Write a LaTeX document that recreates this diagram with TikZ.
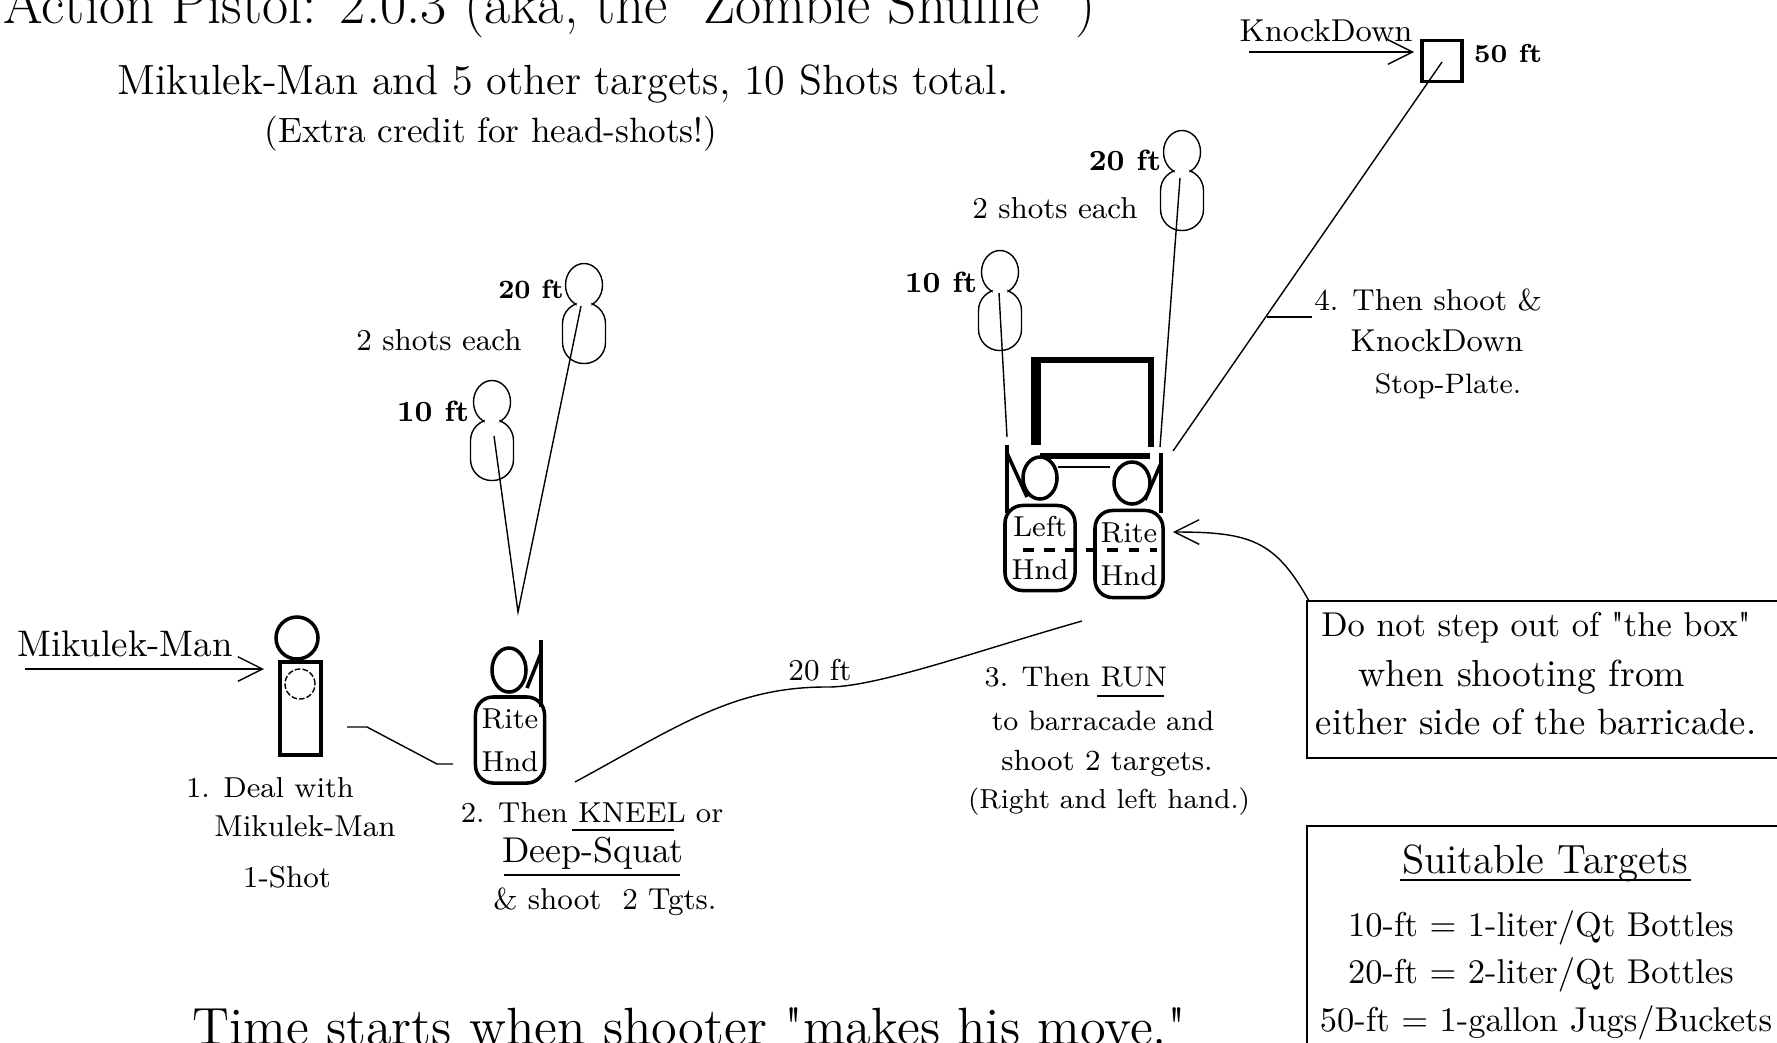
\documentclass[tikz,border=0pt]{standalone}
\usepackage{tikz}
\usetikzlibrary{arrows.meta,shapes.geometric}

\tikzset{
  txt/.style={inner sep=0pt, font=\fontsize{8.6}{10}\selectfont},
  runtxt/.style={inner sep=0pt, font=\fontsize{8}{10}\selectfont},
  boxtxt/.style={inner sep=0pt, font=\fontsize{9.8}{12}\selectfont},
  labtxt/.style={inner sep=0pt, font=\fontsize{8.3}{10}\selectfont\bfseries},
  thin line/.style={line width=0.4pt},
  barb/.style={thin line, -{Straight Barb[length=7pt,width=7pt]}},
  targethead/.style={draw, thin line, ellipse, inner sep=0pt, minimum width=0.37cm, minimum height=0.43cm},
  targetbody/.style={draw, thin line, rounded corners=6pt, inner sep=0pt, minimum width=0.43cm, minimum height=0.61cm},
  targetneck/.style={fill=white, ellipse, inner sep=0pt, minimum width=0.15cm, minimum height=0.08cm},
  shooterhead/.style={draw, line width=1pt, ellipse, inner sep=0pt, minimum width=0.34cm, minimum height=0.42cm},
  shooterbody/.style={draw, line width=1pt, rounded corners=5pt, align=center, inner sep=0pt,
    minimum width=0.69cm, minimum height=0.86cm, font=\fontsize{8.2}{12.2}\selectfont},
}

\begin{document}
\begin{tikzpicture}[x=0.01cm,y=-0.01cm]
  \useasboundingbox (0,0) rectangle (1777,1042);
  \clip (0,0) rectangle (1777,1042);

  % Coordinates
  \coordinate (manarrowA) at (25,669);
  \coordinate (manarrowB) at (264,669);
  \coordinate (kneeltip) at (518,612);
  \coordinate (kneeltenA) at (494,436);
  \coordinate (kneeltwentyA) at (581,306);
  \coordinate (stepA) at (347,727);
  \coordinate (stepB) at (367,727);
  \coordinate (stepC) at (437,764);
  \coordinate (stepD) at (453,764);
  \coordinate (runA) at (575,782);
  \coordinate (runB) at (1082,621);
  \coordinate (plateA) at (1442,62);
  \coordinate (plateB) at (1173,451);
  \coordinate (plateleaderA) at (1267,317);
  \coordinate (plateleaderB) at (1312,317);
  \coordinate (tenA) at (999,293);
  \coordinate (tenB) at (1007,437);
  \coordinate (twentyA) at (1180,178);
  \coordinate (twentyB) at (1160,447);
  \coordinate (knockA) at (1249,52);
  \coordinate (knockB) at (1414,52);
  \coordinate (calloutA) at (1309,601);
  \coordinate (calloutB) at (1173,532);

  % Heading
  \node[inner sep=0pt, anchor=base west, font=\fontsize{16.2}{18}\selectfont] (title) at (3,23)
    {Action Pistol: 2.0.3 (aka, the \textquotedbl Zombie Shuffle\textquotedbl\ )};
  \node[inner sep=0pt, font=\fontsize{12}{14}\selectfont] (subtitle) at (563,84)
    {Mikulek-Man and 5 other targets, 10 Shots total.};
  \node[inner sep=0pt, font=\fontsize{10}{12}\selectfont] (extra) at (491,134)
    {(Extra credit for head-shots!)};
  \node[inner sep=0pt, font=\fontsize{14.9}{16}\selectfont] (timestart) at (689,1026)
    {Time starts when shooter \textquotedbl makes his move.\textquotedbl};

  % Mikulek-Man
  \node[boxtxt, font=\fontsize{10.5}{12}\selectfont] (manname) at (125,644) {Mikulek-Man};
  \draw[barb] (manarrowA) -- (manarrowB);
  \node[draw, line width=1pt, circle, inner sep=0pt, minimum size=0.42cm] (manhead) at (297,638) {};
  \node[draw, line width=1pt, inner sep=0pt, minimum width=0.41cm, minimum height=0.93cm] (manbody) at (300.5,708.5) {};
  \node[draw, thin line, dash pattern=on 1.6pt off 0.6pt, circle, inner sep=0pt, minimum size=0.30cm] (manchest) at (300,684) {};
  \node[runtxt, font=\fontsize{8.2}{10}\selectfont] (dealA) at (270,788) {1. Deal with};
  \node[txt] (dealB) at (305,826) {Mikulek-Man};
  \node[txt] (dealC) at (287,877) {1-Shot};
  \draw[thin line] (stepA) -- (stepB) -- (stepC) -- (stepD);

  % Kneeling position
  \node[shooterhead, minimum height=0.44cm] (kneelhead) at (509,670) {};
  \node[shooterbody, minimum height=0.86cm] (kneelbody) at (510,740) {Rite\\Hnd};
  \draw[line width=1pt] (541,640) -- (541,707);
  \draw[line width=1pt] (541,653) -- (527,688);
  \node[targethead] (headten) at (492,402) {};
  \node[targetbody] (bodyten) at (492,450) {};
  \node[targetneck] (neckten) at (492,421.5) {};
  \node[targethead] (headtwenty) at (584,285) {};
  \node[targetbody] (bodytwenty) at (584,333) {};
  \node[targetneck] (necktwenty) at (584,304.5) {};
  \draw[thin line] (kneeltenA) -- (kneeltip) -- (kneeltwentyA);
  \node[labtxt] (tenleft) at (433,411) {10 ft};
  \node[labtxt, font=\fontsize{7.5}{10}\selectfont\bfseries] (twentyleft) at (531,289) {20 ft};
  \node[txt] (shotsleft) at (439,340) {2 shots each};
  \node[runtxt, font=\fontsize{8.2}{10}\selectfont] (kneelA) at (592,813) {2. Then KNEEL or};
  \draw[thin line] (572,830) -- (674,830);
  \node[boxtxt, font=\fontsize{10.2}{12}\selectfont] (kneelB) at (593,853) {Deep-Squat};
  \draw[thin line] (504,875) -- (680,875);
  \node[txt] (kneelC) at (605,902) {\& shoot\ \ 2 Tgts.};

  % Run to barricade
  \draw[thin line] (runA) .. controls (680,725) and (735,686) .. (830,687)
    .. controls (880,686) and (980,650) .. (runB);
  \node[txt] (runlabel) at (820,670) {20 ft};
  \node[runtxt, font=\fontsize{8.1}{10}\selectfont] (runnoteA) at (1076,677) {3. Then RUN};
  \draw[thin line] (1097,696) -- (1164,696);
  \node[runtxt] (runnoteB) at (1103,721) {to barracade and};
  \node[runtxt, font=\fontsize{8.3}{10}\selectfont] (runnoteC) at (1107,763) {shoot 2 targets.};
  \node[runtxt, font=\fontsize{7.8}{10}\selectfont] (runnoteD) at (1109,802) {(Right and left hand.)};

  % Barricade
  \draw[line width=1.6pt] (1031,360) -- (1154,360);
  \draw[line width=2.8pt] (1036,357) -- (1036,445);
  \draw[line width=1.7pt] (1151,357) -- (1151,447);
  \draw[line width=1.5pt] (1040,456) -- (1150,456);
  \draw[thin line] (1058,467) -- (1110,467);
  \node[shooterhead] (lefthead) at (1040,478) {};
  \node[shooterhead, minimum width=0.36cm] (ritehead) at (1132,483) {};
  \draw[line width=1pt] (1007,445) -- (1007,513);
  \draw[line width=1pt] (1007,453) -- (1027,497);
  \draw[line width=1pt] (1161,453) -- (1161,513);
  \draw[line width=1pt] (1161,463) -- (1145,500);
  \node[shooterbody, minimum width=0.70cm, minimum height=0.85cm] (leftbody) at (1040,548) {Left\\Hnd};
  \node[shooterbody, minimum width=0.68cm, minimum height=0.87cm] (ritebody) at (1129,554) {Rite\\Hnd};
  \draw[dashed, line width=1pt] (1023,550) -- (1157,550);

  % Barricade targets
  \node[targethead] (headtenB) at (1000,272) {};
  \node[targetbody] (bodytenB) at (1000,320) {};
  \node[targetneck] (necktenB) at (1000,291.5) {};
  \draw[thin line] (tenA) -- (tenB);
  \node[targethead] (headtwentyB) at (1182,152) {};
  \node[targetbody] (bodytwentyB) at (1182,200) {};
  \node[targetneck] (necktwentyB) at (1182,171.5) {};
  \draw[thin line] (twentyA) -- (twentyB);
  \node[labtxt] (tenright) at (941,282) {10 ft};
  \node[labtxt] (twentyright) at (1125,160) {20 ft};
  \node[txt] (shotsright) at (1055,208) {2 shots each};

  % Stop-plate
  \node[draw, line width=1.1pt, inner sep=0pt, minimum width=0.40cm, minimum height=0.41cm] (plate) at (1442,61) {};
  \node[labtxt, font=\fontsize{7.4}{10}\selectfont\bfseries] (fiftylabel) at (1508,54) {50 ft};
  \node[txt, font=\fontsize{9}{10}\selectfont] (knocktop) at (1326,31) {KnockDown};
  \draw[barb] (knockA) -- (knockB);
  \draw[thin line] (plateA) -- (plateB);
  \draw[thin line] (plateleaderA) -- (plateleaderB);
  \node[txt] (plateA1) at (1428,300) {4. Then shoot \&};
  \node[txt, font=\fontsize{9}{10}\selectfont] (plateA2) at (1437,341) {KnockDown};
  \node[runtxt] (plateA3) at (1448,386) {Stop-Plate.};

  % Notes on the right
  \draw[thin line, {Straight Barb[length=7pt,width=7pt]}-] (calloutB) .. controls (1250,532) and (1275,540) .. (calloutA);
  \draw[thin line] (1307,601) rectangle (1800,758);
  \node[boxtxt] (boxnoteA) at (1536,628) {Do not step out of \textquotedbl the box\textquotedbl};
  \node[boxtxt, font=\fontsize{10.7}{12}\selectfont] (boxnoteB) at (1522,677) {when shooting from};
  \node[boxtxt, font=\fontsize{10.4}{12}\selectfont] (boxnoteC) at (1536,722) {either side of the barricade.};
  \draw[thin line] (1307,826) rectangle (1800,1060);
  \node[inner sep=0pt, font=\fontsize{11.6}{14}\selectfont] (suitable) at (1545,863) {Suitable Targets};
  \draw[thin line] (1400,880) -- (1691,880);
  \node[boxtxt] (suitA) at (1541,928) {10-ft = 1-liter/Qt Bottles};
  \node[boxtxt] (suitB) at (1541,975) {20-ft = 2-liter/Qt Bottles};
  \node[boxtxt] (suitC) at (1546,1023) {50-ft = 1-gallon Jugs/Buckets};
\end{tikzpicture}
\end{document}
